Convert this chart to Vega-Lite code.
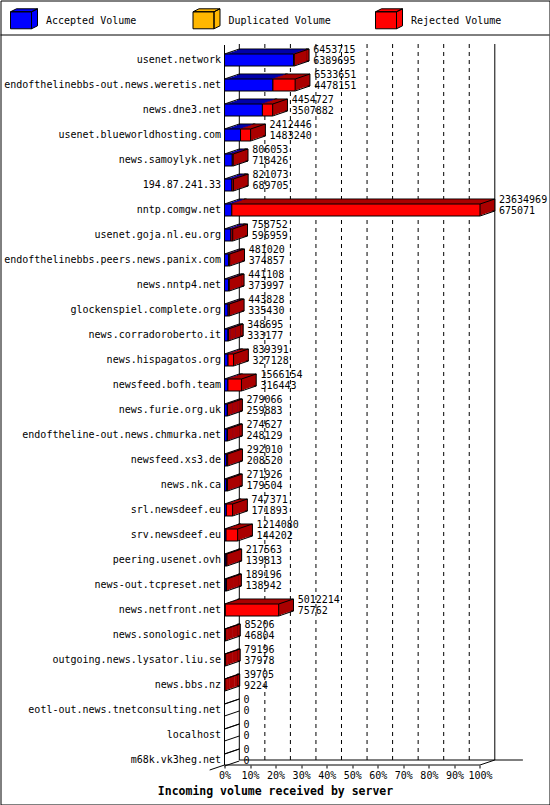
{
  "$schema": "https://vega.github.io/schema/vega-lite/v6.json",
  "width": 549,
  "height": 804,
  "autosize": "none",
  "padding": 0.5,
  "background": "#ffffff",
  "config": {
    "view": {"stroke": "#000000", "strokeWidth": 1},
    "font": "DejaVu Sans Mono"
  },
  "data": {
    "values": [
      {"server": "usenet.network", "total": 6453715, "accepted": 6389695},
      {"server": "endofthelinebbs-out.news.weretis.net", "total": 6533651, "accepted": 4478151},
      {"server": "news.dne3.net", "total": 4454727, "accepted": 3507882},
      {"server": "usenet.blueworldhosting.com", "total": 2412446, "accepted": 1483240},
      {"server": "news.samoylyk.net", "total": 806053, "accepted": 718426},
      {"server": "194.87.241.33", "total": 821073, "accepted": 689705},
      {"server": "nntp.comgw.net", "total": 23634969, "accepted": 675071},
      {"server": "usenet.goja.nl.eu.org", "total": 758752, "accepted": 596959},
      {"server": "endofthelinebbs.peers.news.panix.com", "total": 481020, "accepted": 374857},
      {"server": "news.nntp4.net", "total": 441108, "accepted": 373997},
      {"server": "glockenspiel.complete.org", "total": 443828, "accepted": 335430},
      {"server": "news.corradoroberto.it", "total": 348695, "accepted": 333177},
      {"server": "news.hispagatos.org", "total": 839391, "accepted": 327128},
      {"server": "newsfeed.bofh.team", "total": 1566154, "accepted": 316443},
      {"server": "news.furie.org.uk", "total": 279066, "accepted": 259883},
      {"server": "endoftheline-out.news.chmurka.net", "total": 274627, "accepted": 248129},
      {"server": "newsfeed.xs3.de", "total": 292010, "accepted": 208520},
      {"server": "news.nk.ca", "total": 271926, "accepted": 179504},
      {"server": "srl.newsdeef.eu", "total": 747371, "accepted": 171893},
      {"server": "srv.newsdeef.eu", "total": 1214080, "accepted": 144202},
      {"server": "peering.usenet.ovh", "total": 217563, "accepted": 139813},
      {"server": "news-out.tcpreset.net", "total": 189196, "accepted": 138942},
      {"server": "news.netfront.net", "total": 5012214, "accepted": 75762},
      {"server": "news.sonologic.net", "total": 85206, "accepted": 46804},
      {"server": "outgoing.news.lysator.liu.se", "total": 79196, "accepted": 37978},
      {"server": "news.bbs.nz", "total": 39705, "accepted": 9224},
      {"server": "eotl-out.news.tnetconsulting.net", "total": 0, "accepted": 0},
      {"server": "localhost", "total": 0, "accepted": 0},
      {"server": "m68k.vk3heg.net", "total": 0, "accepted": 0}
    ]
  },
  "encoding": {
    "y": {
      "field": "server",
      "type": "nominal",
      "sort": null,
      "scale": {
        "domain": ["usenet.network", "endofthelinebbs-out.news.weretis.net", "news.dne3.net", "usenet.blueworldhosting.com", "news.samoylyk.net", "194.87.241.33", "nntp.comgw.net", "usenet.goja.nl.eu.org", "endofthelinebbs.peers.news.panix.com", "news.nntp4.net", "glockenspiel.complete.org", "news.corradoroberto.it", "news.hispagatos.org", "newsfeed.bofh.team", "news.furie.org.uk", "endoftheline-out.news.chmurka.net", "newsfeed.xs3.de", "news.nk.ca", "srl.newsdeef.eu", "srv.newsdeef.eu", "peering.usenet.ovh", "news-out.tcpreset.net", "news.netfront.net", "news.sonologic.net", "outgoing.news.lysator.liu.se", "news.bbs.nz", "eotl-out.news.tnetconsulting.net", "localhost", "m68k.vk3heg.net"],
        "range": [53.5, 765.5],
        "paddingInner": 0.52,
        "paddingOuter": 0
      },
      "axis": {
        "title": null,
        "orient": "left",
        "offset": -224,
        "domain": false,
        "ticks": false,
        "grid": false,
        "labelPadding": 4,
        "labelFont": "DejaVu Sans Mono",
        "labelFontSize": 10,
        "labelColor": "#000000",
        "labelLimit": 300
      }
    }
  },
  "layer": [
    {
      "data": {"values": [{}]},
      "layer": [
        {
          "mark": {"type": "rule", "color": "#000000", "yOffset": 5},
          "encoding": {
            "y": {"datum": "m68k.vk3heg.net"},
            "x": {
              "datum": 0,
              "type": "quantitative",
              "scale": {"domain": [-20721075, 30064060], "nice": false, "zero": false},
              "axis": {
                "orient": "bottom",
                "offset": -39.5,
                "values": [0, 2363496.9, 4726993.8, 7090490.7, 9453987.6, 11817484.5, 14180981.4, 16544478.3, 18907975.2, 21271472.1, 23634969],
                "labelExpr": "format(datum.value / 23634969, '.0%')",
                "domain": false,
                "grid": false,
                "tickSize": 3,
                "tickColor": "#000000",
                "labelPadding": 2,
                "labelFont": "DejaVu Sans Mono",
                "labelFontSize": 10,
                "labelColor": "#000000",
                "labelFlush": false,
                "labelOverlap": false,
                "title": "Incoming volume received by server",
                "titleFont": "DejaVu Sans Mono",
                "titleFontWeight": "bold",
                "titleFontSize": 11.5,
                "titleColor": "#000000",
                "titlePadding": 5
              }
            },
            "x2": {"datum": 23634969}
          }
        },
        {
          "mark": {"type": "rule", "color": "#000000", "yOffset": -25},
          "encoding": {"y": {"datum": "usenet.network"}}
        },
        {
          "mark": {"type": "rule", "color": "#000000", "yOffset": -15, "y2Offset": 5},
          "encoding": {"x": {"datum": 0}, "y": {"datum": "usenet.network"}, "y2": {"datum": "m68k.vk3heg.net"}}
        },
        {
          "mark": {"type": "rule", "color": "#000000", "xOffset": 14.8, "yOffset": -16},
          "encoding": {"x": {"datum": 0}, "y": {"datum": "usenet.network"}, "y2": {"datum": "m68k.vk3heg.net"}}
        },
        {
          "mark": {"type": "rule", "color": "#000000", "xOffset": 14.8, "yOffset": -16},
          "encoding": {"x": {"datum": 23634969}, "y": {"datum": "usenet.network"}, "y2": {"datum": "m68k.vk3heg.net"}}
        },
        {
          "mark": {"type": "rule", "color": "#000000", "xOffset": 14.8, "x2Offset": 14.8},
          "encoding": {"x": {"datum": 0}, "x2": {"datum": 26234816}, "y": {"datum": "m68k.vk3heg.net"}}
        },
        {
          "mark": {"type": "rule", "color": "#000000", "xOffset": -14.8, "yOffset": 10, "y2Offset": 5},
          "encoding": {"x": {"datum": 0}, "x2": {"datum": 0}, "y": {"datum": "m68k.vk3heg.net"}, "y2": {"datum": "m68k.vk3heg.net"}}
        },
        {
          "mark": {"type": "rule", "color": "#000000", "x2Offset": 14.8, "yOffset": 5},
          "encoding": {"x": {"datum": 23634969}, "x2": {"datum": 23634969}, "y": {"datum": "m68k.vk3heg.net"}, "y2": {"datum": "m68k.vk3heg.net"}}
        },
        {
          "encoding": {"y": {"datum": "usenet.network"}, "y2": {"datum": "m68k.vk3heg.net"}},
          "layer": [
            {"mark": {"type": "rule", "color": "#000000", "strokeDash": [4, 4], "xOffset": 14.8, "yOffset": -16}, "encoding": {"x": {"datum": 2363496.9}}},
            {"mark": {"type": "rule", "color": "#000000", "strokeDash": [4, 4], "xOffset": 14.8, "yOffset": -16}, "encoding": {"x": {"datum": 4726993.8}}},
            {"mark": {"type": "rule", "color": "#000000", "strokeDash": [4, 4], "xOffset": 14.8, "yOffset": -16}, "encoding": {"x": {"datum": 7090490.7}}},
            {"mark": {"type": "rule", "color": "#000000", "strokeDash": [4, 4], "xOffset": 14.8, "yOffset": -16}, "encoding": {"x": {"datum": 9453987.6}}},
            {"mark": {"type": "rule", "color": "#000000", "strokeDash": [4, 4], "xOffset": 14.8, "yOffset": -16}, "encoding": {"x": {"datum": 11817484.5}}},
            {"mark": {"type": "rule", "color": "#000000", "strokeDash": [4, 4], "xOffset": 14.8, "yOffset": -16}, "encoding": {"x": {"datum": 14180981.4}}},
            {"mark": {"type": "rule", "color": "#000000", "strokeDash": [4, 4], "xOffset": 14.8, "yOffset": -16}, "encoding": {"x": {"datum": 16544478.3}}},
            {"mark": {"type": "rule", "color": "#000000", "strokeDash": [4, 4], "xOffset": 14.8, "yOffset": -16}, "encoding": {"x": {"datum": 18907975.2}}},
            {"mark": {"type": "rule", "color": "#000000", "strokeDash": [4, 4], "xOffset": 14.8, "yOffset": -16}, "encoding": {"x": {"datum": 21271472.1}}}
          ]
        }
      ]
    },
    {
      "transform": [{"filter": "datum.total > 0"}],
      "encoding": {
        "x": {"field": "accepted", "type": "quantitative", "scale": {"domain": [-20721075, 30064060], "nice": false, "zero": false}}
      },
      "layer": [
        {"mark": {"type": "bar", "color": "#0000aa", "stroke": "#000000", "strokeWidth": 1, "xOffset": 14.8, "x2Offset": 12.33, "yOffset": -5}},
        {"mark": {"type": "bar", "color": "#0000aa", "xOffset": 12.33, "x2Offset": 9.87, "yOffset": -4.17}},
        {"mark": {"type": "bar", "color": "#0000aa", "xOffset": 9.87, "x2Offset": 7.4, "yOffset": -3.33}},
        {"mark": {"type": "bar", "color": "#0000aa", "xOffset": 7.4, "x2Offset": 4.93, "yOffset": -2.5}},
        {"mark": {"type": "bar", "color": "#0000aa", "xOffset": 4.93, "x2Offset": 2.47, "yOffset": -1.67}},
        {"mark": {"type": "bar", "color": "#0000aa", "xOffset": 2.47, "x2Offset": 0, "yOffset": -0.83}},
        {
          "mark": {"type": "bar", "stroke": "#000000", "strokeWidth": 1},
          "encoding": {
            "color": {
              "datum": "Accepted Volume",
              "type": "nominal",
              "scale": {
                "domain": ["Accepted Volume", "Duplicated Volume", "Rejected Volume"],
                "range": ["#0000ff", "#ffb700", "#ff0000"]
              },
              "legend": {
                "orient": "none",
                "legendX": 9.5,
                "legendY": 6.3,
                "direction": "horizontal",
                "columns": 3,
                "title": null,
                "symbolType": "M-1,-0.67H0.556V0.59H-1Z M-1,-0.67L-0.556,-0.89H1L0.556,-0.67Z M0.556,-0.67L1,-0.89V0.37L0.556,0.59Z",
                "symbolSize": 729,
                "symbolStrokeColor": "#000000",
                "symbolStrokeWidth": 1,
                "symbolOpacity": 1,
                "labelFont": "DejaVu Sans Mono",
                "labelFontSize": 10,
                "labelColor": "#000000",
                "labelOffset": 8,
                "columnPadding": 41.5,
                "gridAlign": "all",
                "padding": 0
              }
            }
          }
        }
      ]
    },
    {
      "transform": [{"filter": "datum.total > 0"}],
      "encoding": {
        "x": {"field": "accepted", "type": "quantitative", "scale": {"domain": [-20721075, 30064060], "nice": false, "zero": false}},
        "x2": {"field": "total"}
      },
      "layer": [
        {"mark": {"type": "bar", "color": "#aa0000", "stroke": "#000000", "strokeWidth": 1, "xOffset": 12.33, "x2Offset": 14.8, "yOffset": -5}},
        {"mark": {"type": "bar", "color": "#aa0000", "xOffset": 9.87, "x2Offset": 12.33, "yOffset": -4.17}},
        {"mark": {"type": "bar", "color": "#aa0000", "xOffset": 7.4, "x2Offset": 9.87, "yOffset": -3.33}},
        {"mark": {"type": "bar", "color": "#aa0000", "xOffset": 4.93, "x2Offset": 7.4, "yOffset": -2.5}},
        {"mark": {"type": "bar", "color": "#aa0000", "xOffset": 2.47, "x2Offset": 4.93, "yOffset": -1.67}},
        {"mark": {"type": "bar", "color": "#aa0000", "xOffset": 0, "x2Offset": 2.47, "yOffset": -0.83}},
        {
          "mark": {"type": "bar", "stroke": "#000000", "strokeWidth": 1},
          "encoding": {"color": {"datum": "Rejected Volume", "type": "nominal"}}
        }
      ]
    },
    {
      "encoding": {
        "y2": {"field": "server"}
      },
      "layer": [
        {
          "mark": {"type": "rule", "color": "#000000", "yOffset": -6, "x2Offset": 14.8, "y2Offset": -11},
          "encoding": {"x": {"datum": 0}, "x2": {"datum": 0}}
        },
        {
          "mark": {"type": "rule", "color": "#000000", "yOffset": -6, "x2Offset": 14.8, "y2Offset": -11},
          "encoding": {"x": {"field": "total", "type": "quantitative"}, "x2": {"field": "total"}}
        },
        {
          "mark": {"type": "rule", "color": "#000000", "yOffset": 6, "x2Offset": 14.8, "y2Offset": 1},
          "encoding": {"x": {"field": "total", "type": "quantitative"}, "x2": {"field": "total"}}
        }
      ]
    },
    {
      "encoding": {
        "x": {"field": "total", "type": "quantitative", "scale": {"domain": [-20721075, 30064060], "nice": false, "zero": false}}
      },
      "layer": [
        {
          "mark": {"type": "text", "align": "left", "baseline": "middle", "dx": 19, "dy": -10, "font": "DejaVu Sans Mono", "fontSize": 10, "color": "#000000"},
          "encoding": {"text": {"field": "total", "type": "quantitative", "format": "d"}}
        },
        {
          "mark": {"type": "text", "align": "left", "baseline": "middle", "dx": 19, "dy": 1, "font": "DejaVu Sans Mono", "fontSize": 10, "color": "#000000"},
          "encoding": {"text": {"field": "accepted", "type": "quantitative", "format": "d"}}
        }
      ]
    }
  ]
}
